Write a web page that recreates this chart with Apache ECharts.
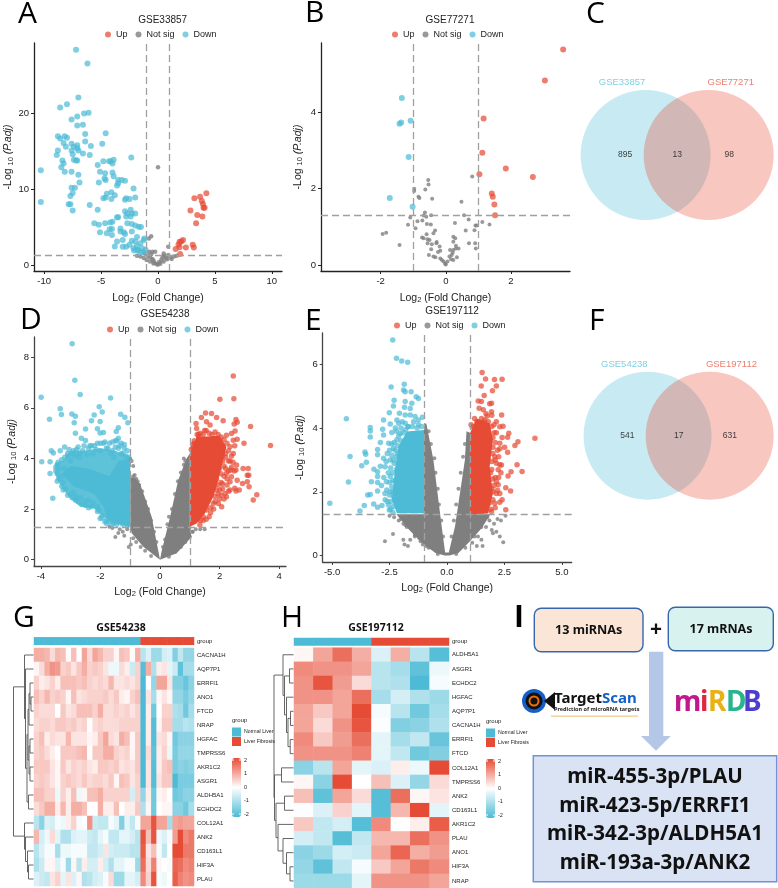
<!DOCTYPE html>
<html><head><meta charset="utf-8">
<style>html,body{margin:0;padding:0;background:#fff}#c{width:778px;height:888px}</style>
<script src="https://cdn.jsdelivr.net/npm/echarts@6/dist/echarts.min.js"></script>
</head><body><div id="c"></div>
<script>
// ---------- Volcano data [log2FC, -log10 Padj] ----------
const aUp=[[4.25,9.45],[3.7,9.0],[3.2,8.8],[3.85,8.45],[3.95,8.05],[4.0,7.55],[4.1,7.55],[2.85,7.2],[3.45,6.6],[3.9,6.4],[3.35,5.5],[2.2,3.3],[2.05,3.1],[1.9,3.05],[1.8,2.7],[3.05,2.65],[3.15,2.3],[2.45,2.3],[1.9,2.35],[1.55,2.1],[1.95,1.45]];
const aDown=[[-7.2,28.4],[-6.2,26.6],[-7.0,22.1],[-8.0,21.2],[-8.6,20.8],[-6.5,20.0],[-6.1,20.1],[-7.1,19.6],[-7.6,19.2],[-6.6,18.5],[-7.1,18.4],[-4.6,17.4],[-6.4,17.3],[-8.8,17.0],[-8.6,16.7],[-8.2,17.0],[-8.0,16.8],[-6.4,16.3],[-8.3,16.1],[-4.9,16.0],[-5.9,15.7],[-8.1,15.6],[-7.6,16.0],[-7.1,15.8],[-7.4,15.6],[-7.1,15.4],[-8.8,15.1],[-7.6,15.1],[-7.0,15.1],[-8.9,14.5],[-7.5,14.6],[-6.6,14.7],[-6.0,14.5],[-2.35,14.2],[-8.4,13.8],[-7.4,13.9],[-7.1,13.8],[-7.2,13.8],[-8.3,13.4],[-4.8,13.7],[-4.3,13.7],[-4.15,13.7],[-3.9,13.9],[-4.0,13.4],[-5.3,13.2],[-8.5,12.9],[-10.3,12.5],[-8.2,12.3],[-7.6,12.3],[-5.1,12.3],[-4.65,12.1],[-4.0,12.2],[-7.0,11.9],[-3.9,11.7],[-4.7,11.4],[-4.6,11.2],[-5.2,10.9],[-6.9,10.9],[-3.5,11.2],[-3.2,11.2],[-2.9,11.1],[-3.5,10.8],[-3.6,10.5],[-7.6,10.2],[-7.3,10.2],[-2.15,10.1],[-4.1,9.6],[-4.5,9.4],[-3.8,9.2],[-7.5,9.5],[-7.7,9.1],[-4.8,8.8],[-4.6,8.9],[-4.1,8.7],[-2.9,8.6],[-2.8,8.8],[-2.5,8.7],[-2.0,8.9],[-10.3,8.3],[-7.85,8.0],[-7.7,8.0],[-6.0,7.9],[-7.5,7.2],[-5.3,7.3],[-2.9,7.1],[-2.4,7.3],[-2.7,6.8],[-2.3,6.8],[-2.0,6.8],[-2.8,6.4],[-2.4,6.4],[-3.6,6.3],[-3.5,6.3],[-5.6,5.5],[-5.2,5.3],[-4.65,5.5],[-4.2,5.6],[-4.0,5.7],[-2.7,5.5],[-2.3,5.4],[-2.0,5.2],[-1.7,5.05],[-1.5,5.0],[-4.05,4.75],[-4.25,4.7],[-3.3,4.8],[-2.3,4.4],[-3.0,4.3],[-5.1,4.3],[-4.5,4.2],[-4.05,3.95],[-3.3,4.4],[-2.9,4.1],[-3.6,3.1],[-3.1,3.3],[-1.85,3.7],[-1.25,3.3],[-1.2,3.5],[-2.3,3.2],[-1.55,2.85],[-3.8,2.45],[-3.1,2.4],[-2.8,2.4],[-2.15,2.2],[-1.85,2.5],[-1.4,2.2],[-1.7,1.9],[-1.1,2.0],[-2.1,1.9],[-1.25,1.75],[-1.55,1.65],[-1.85,2.0],[-2.5,2.65],[-2.0,3.1]];
const aGray=[[0,12.9],[-0.6,3.8],[-0.8,3.5],[0.9,2.4],[-0.8,1.75],[-0.5,1.75],[-0.25,1.75],[-1.85,1.2],[-1.55,1.1],[-1.25,0.9],[-1,0.65],[-0.7,0.45],[-0.4,0.2],[-0.1,0.1],[0.2,0.15],[0.5,0.45],[0.8,0.75],[1.1,1],[1.4,1.1],[1.65,1.2],[-1.2,1.5],[-0.9,1.2],[-0.7,1],[-0.6,1.4],[-0.5,0.8],[-0.4,0.6],[-0.3,0.3],[0,0.05],[0.1,0.4],[0.3,0.7],[0.4,1],[0.5,1.5],[0.55,1.2],[0.7,0.9],[0.9,1.3],[1.2,0.8]];
const bUp=[[3.6,5.63],[3.04,4.82],[1.16,3.83],[1.12,2.93],[1.84,2.52],[2.67,2.3],[1.03,2.37],[1.41,1.87],[1.44,1.78],[1.49,1.58],[1.51,1.3]];
const bDown=[[-1.35,4.36],[-1.37,3.72],[-1.42,3.69],[-1.08,3.77],[-1.14,2.82],[-1.72,1.75],[-1.02,1.52]];
const bGray=[[-0.54,2.22],[-0.53,2.1],[-0.63,1.97],[-0.97,1.99],[-0.97,1.93],[-0.84,1.78],[-0.81,1.75],[-0.42,1.73],[0.81,2.31],[0.48,1.65],[0.56,1.3],[0.7,1.19],[-0.64,1.37],[-0.68,1.29],[-0.6,1.26],[-0.45,1.3],[-1.09,1.24],[-0.87,1.14],[-0.72,1.16],[-0.58,1.07],[-0.46,1.06],[-1.16,1.05],[-0.93,0.96],[-1.94,0.81],[-1.83,0.84],[-1.42,0.52],[-0.33,0.9],[-0.38,0.83],[-0.59,0.8],[-0.73,0.72],[-0.68,0.7],[-0.56,0.67],[-0.5,0.65],[-0.28,0.6],[-0.56,0.57],[-0.43,0.54],[-0.29,0.57],[-0.19,0.48],[-0.45,0.41],[-0.17,0.37],[-0.24,0.34],[-0.52,0.26],[-0.38,0.22],[-0.32,0.2],[-0.17,0.17],[-0.12,0.13],[-0.07,0.09],[-0.02,0.03],[0,0.01],[0.05,0.09],[0.11,0.22],[0.18,0.26],[0.13,0.39],[0.23,0.39],[0.31,0.43],[0.39,0.43],[0.31,0.5],[0.23,0.61],[0.29,0.7],[0.23,0.74],[0.28,1.1],[0.61,0.9],[0.88,0.91],[0.91,1.03],[0.95,1.03],[1.12,1.12],[1.34,1.06],[0.71,0.57],[0.9,0.57],[0.92,0.43],[0.23,0.13],[0.34,0.2],[0.16,0.15],[0.21,0.32]];
const dUp=[[2.46,7.26],[2.01,6.34],[2.48,6.36],[1.53,5.8],[1.73,5.78],[1.39,5.62],[1.9,5.62],[2.12,5.49],[2.55,5.54],[2.59,5.43],[2.49,5.36],[3.04,5.26],[1.21,5.38],[1.56,5.45],[1.68,5.32],[1.23,5.18],[2.52,5.09],[2.4,4.99],[2.23,4.92],[3.71,4.51],[2.82,4.6],[2.59,4.76],[2.46,4.72],[2.35,4.46],[2.51,4.5],[2.46,4.2],[2.57,3.74],[2.79,3.6],[2.96,3.6],[2.55,3.54],[2.49,3.5],[2.98,3.34],[2.93,3.34],[2.37,3.54],[2.4,3.28],[2.23,3.41],[2.35,3.08],[2.59,3.14],[2.77,3.01],[2.93,3.08],[2.99,2.88],[2.51,2.82],[2.66,2.75],[2.55,2.71],[3.25,2.57],[3.13,2.36],[2.35,2.75],[2.23,2.49],[2.07,2.09],[1.96,2.22],[1.79,2.22],[1.56,1.96],[1.34,1.37],[2.18,2.62],[2.01,2.75],[2.2,4.2],[2.3,3.9],[2.15,3.7],[2.25,3.2],[2.1,3],[2.05,3.4],[2.1,4.5],[1.85,5.05],[1.5,5.1],[1.3,4.95],[1.1,4.55],[1.15,4.6],[1.95,2.6],[1.85,2.5],[1.7,2.05],[1.45,1.7]];
const dUpEdge=[[1.05,4.35],[1.1,4.4],[1.15,4.7],[1.2,4.55],[1.25,4.95],[1.3,4.85],[1.35,5.0],[1.45,4.95],[1.55,5.1],[1.65,5.0],[1.75,4.95],[1.95,4.95],[2.05,4.85],[2.15,4.75],[2.1,4.35],[2.2,4.05],[2.25,4.6],[2.3,4.3],[2.1,3.9],[2.2,3.6],[2.35,3.9],[2.15,3.3],[2.05,3.05],[2.1,2.8],[2.0,2.4],[1.95,2.95],[2.05,2.55],[1.85,2.3],[1.8,2.0],[1.7,1.85],[1.65,1.7],[1.55,1.6],[1.45,1.55],[1.35,1.55],[1.25,1.6],[1.9,3.2],[2.0,3.6],[2.1,4.1],[2.3,3.5],[2.45,3.85],[2.4,3.65],[2.25,2.95],[2.3,2.7],[2.15,2.4],[1.9,2.75],[2.4,4.1]];
const dDown=[[-2.95,8.53],[-2.86,7.09],[-2.68,6.53],[-3.99,6.42],[-1.66,6.39],[-2.04,6.04],[-3.35,5.96],[-1.94,5.84],[-3.31,5.74],[-2.96,5.76],[-2.84,5.67],[-2.21,5.72],[-1.32,5.75],[-1.18,5.63],[-3.71,5.55],[-2.3,5.49],[-2.01,5.46],[-2.88,5.41],[-1.08,5.41],[-2.5,5.16],[-2.1,5.17],[-1.4,5.21],[-1.47,5.07],[-2.84,5.0],[-2.01,5.01],[-1.9,5.03],[-2.64,4.8],[-2.5,4.71],[-1.4,4.8],[-3.97,3.87],[-3.69,3.87],[-3.69,3.41],[-3.6,2.43],[-2.84,2.36],[-3.65,4.3],[-3.58,4.22],[-2.01,1.63],[-1.79,1.43],[-3.5,3.5],[-3.4,3.2],[-3.3,2.9],[-3.2,3.6],[-3.1,4.1],[-3.0,2.6],[-3.0,3.9],[-2.9,4.3],[-2.8,2.5],[-2.7,4.2],[-2.6,2.2],[-2.5,2.3],[-2.4,4.4],[-2.3,2.1],[-2.2,4.5],[-2.1,1.9],[-2,4.6],[-1.9,4.6],[-1.85,1.5],[-1.7,4.6],[-1.6,1.4],[-1.5,4.7],[-1.4,4.4],[-1.3,4.6],[-1.2,4.4],[-1.1,4.3],[-1.05,4.05],[-3.45,3.75],[-3.35,4.3],[-3.2,4.45],[-2.75,4.45],[-2.35,4.5],[-1.8,4.4],[-1.65,4.2],[-1.25,4.2],[-3.45,3.1],[-3.25,2.75],[-2.95,2.45],[-2.4,2.05],[-1.95,1.75],[-1.7,1.6]];
const dDownEdge=[[-3.5,3.65],[-3.45,3.4],[-3.42,3.85],[-3.38,3.6],[-3.3,3.95],[-3.3,3.3],[-3.25,3.05],[-3.2,4.05],[-3.18,2.8],[-3.1,4.2],[-3.1,2.55],[-3.05,4.35],[-2.95,4.2],[-2.9,2.65],[-2.85,4.1],[-2.8,4.35],[-2.75,2.3],[-2.7,4.05],[-2.65,2.45],[-2.6,4.3],[-2.55,4.5],[-2.5,2.15],[-2.45,4.15],[-2.4,2.35],[-2.3,4.5],[-2.25,4.2],[-2.25,2.25],[-2.15,4.35],[-2.1,4.6],[-2.1,2.1],[-2.05,1.95],[-2,4.3],[-1.95,1.65],[-1.85,4.65],[-1.8,1.55],[-1.75,4.4],[-1.7,1.5],[-1.6,4.65],[-1.6,4.3],[-1.55,1.45],[-1.5,4.45],[-1.45,4.7],[-1.45,1.4],[-1.35,4.5],[-1.3,4.2],[-1.25,1.4],[-1.2,4.55],[-1.15,4.1],[-1.1,1.35],[-1.55,4.05]];
const dGray=[[-1.5,0.9],[-1.4,1.05],[-1.25,1.1],[-1.2,0.95],[1.2,1.2],[1.5,1.2],[-1.05,0.5],[-0.98,0.6],[-1,4.0],[-0.95,3.9],[-0.9,3.7],[0.8,4],[0.85,3.9],[0.9,3.8],[-1.7,1.3],[-1.6,1.25],[-1.35,1.2],[1.1,1.1],[1.35,1.2],[-0.85,3.35],[-0.75,3.1]];
const dGrayEdge=[[-1.1,1.2],[-0.9,0.85],[-0.8,0.7],[-0.65,0.5],[-0.5,0.35],[-0.3,0.15],[0.3,0.12],[0.5,0.3],[0.7,0.5],[0.85,0.7],[1,0.9],[1.08,1.1],[-0.7,2.95],[-0.6,2.7],[-0.5,2.3],[-0.4,2],[-0.3,1.55],[-0.2,1.1],[-0.12,0.7],[0.25,1.4],[0.3,1.7],[0.4,2.0],[0.5,2.6],[0.6,3.1],[0.7,3.45],[0.8,3.75],[0.17,0.8],[0.1,0.5],[-0.8,3.2],[-0.9,3.3]];
const eUp=[[1.53,5.74],[1.68,5.54],[2.07,5.52],[2.4,5.53],[2.15,5.32],[1.49,5.32],[1.98,5.17],[1.62,5.02],[1.36,4.85],[1.5,4.83],[1.94,4.78],[1.86,4.76],[1.4,4.62],[1.58,4.57],[1.94,4.51],[2.38,4.41],[1.75,4.38],[2.15,4.2],[2.44,4.06],[2.69,3.84],[2.64,3.71],[3.83,3.68],[3.09,3.57],[2.96,3.45],[2.3,3.52],[2.51,3.4],[2.64,3.24],[3.05,2.85],[3.27,2.64],[2.79,2.63],[2.66,2.5],[2.56,2.13],[2.77,2.03],[2.56,1.44],[2.15,2.9],[2.37,2.84],[2.23,2.69],[2.15,2.32],[2.23,2.22],[2.3,1.95],[2.08,1.64],[2.3,1.67],[1.94,1.38],[2.08,3.1],[2.3,4.04],[2.05,3.85],[2.0,3.4],[2.1,2.45],[1.95,2.1],[1.05,4.1],[1.2,4.3],[1.6,4.2],[1.95,2.7]];
const eUpEdge=[[1.1,4.05],[1.3,4.2],[1.5,4.3],[1.65,4.25],[1.8,4.2],[1.95,4.05],[2.05,4.1],[2.0,3.7],[2.1,3.55],[2.15,3.85],[2.2,3.3],[2.0,3.2],[2.1,3.0],[1.95,2.95],[1.9,2.6],[2.0,2.4],[2.05,2.2],[2.0,2.0],[2.15,1.95],[2.0,1.75],[1.85,1.65],[2.1,1.5],[1.9,1.45],[1.7,1.4],[1.5,1.35],[2.25,3.1],[2.3,2.85],[2.25,2.45],[2.35,2.6],[2.3,3.35],[2.4,3.7],[2.2,2.05],[2.4,1.75],[1.95,4.4],[1.7,4.45]];
const eDown=[[-2.36,6.76],[-2.2,6.19],[-1.97,6.1],[-1.71,6.06],[-1.86,5.37],[-2.43,5.29],[-1.89,5.19],[-1.82,5.14],[-1.56,5.14],[-1.34,4.98],[-1.24,4.93],[-2.3,4.87],[-1.82,4.83],[-2.33,4.69],[-1.53,4.78],[-1.85,4.65],[-1.6,4.61],[-2.51,4.48],[-4.38,4.29],[-2.76,4.25],[-2.18,4.25],[-2.07,4.46],[-1.07,4.34],[-3.34,4.02],[-3.34,3.91],[-3.34,3.72],[-2.8,3.96],[-2.47,4.13],[-2.4,3.86],[-2.76,3.78],[-2.9,3.55],[-2.54,3.52],[-3.02,3.33],[-3.57,3.25],[-3.54,3.18],[-4.22,3.11],[-3.71,2.82],[-3.51,2.93],[-3.02,3.16],[-3.18,2.71],[-3.02,2.63],[-4.29,2.31],[-5.1,1.64],[-3.79,1.4],[-3.6,1.57],[-3.45,1.9],[-3.34,1.92],[-3.29,2.32],[-3.02,2.48],[-3.02,2.29],[-3.02,2.03],[-3.19,1.62],[-3.02,1.52],[-2.83,1.57],[-2.69,1.75],[-2.51,1.43],[-2.62,2.06],[-2.47,2],[-2.64,2.32],[-2.47,2.48],[-2.69,2.79],[-2.47,3],[-2.76,3.05],[-2.54,1.59],[-2.33,1.54],[-2.33,3.0],[-2.18,3.63],[-2.04,3.83],[-1.82,4.15],[-1.68,4.04],[-1.39,4.36],[-1.24,4.1],[-1.6,4.41],[-1.82,4.41],[-2.33,3.36],[-2.4,2.16],[-2.33,1.85],[-2.2,2.7],[-2.15,3.2],[-2.25,2.35]];
const eDownEdge=[[-1.8,3.95],[-1.9,3.85],[-1.7,4.05],[-1.5,4.05],[-1.3,4.0],[-1.1,4.05],[-1.45,4.2],[-1.25,4.25],[-2.0,3.6],[-2.1,3.75],[-2.15,3.45],[-2.25,3.3],[-2.3,3.55],[-2.2,3.1],[-2.3,2.9],[-2.35,2.6],[-2.4,3.15],[-2.45,2.75],[-2.5,2.3],[-2.35,2.35],[-2.5,1.9],[-2.45,1.7],[-2.35,2.0],[-2.45,1.45],[-2.35,1.35],[-2.6,1.7],[-2.55,2.6],[-2.6,3.2],[-2.65,2.95],[-2.7,1.95],[-2.75,2.45],[-2.85,2.2],[-2.9,2.8],[-2.4,3.5],[-2.5,3.3],[-2.2,3.9],[-2.0,4.0],[-2.1,4.15],[-2.25,4.0],[-1.95,4.2]];
const eGray=[[-2.7,0.45],[-2.35,0.68],[-1.9,0.5],[-1.6,0.5],[-1.85,0.35],[-1.7,0.3],[-1.4,0.65],[-1.2,0.55],[-1.05,0.35],[-0.9,0.3],[1.1,0.4],[1.3,0.3],[1.35,0.6],[1.5,0.5],[1.55,0.3],[1.7,0.9],[1.95,0.8],[2,0.7],[2.15,0.75],[2.3,0.6],[2.45,0.42],[2.2,1.15],[2.35,1.1],[2.55,1.25],[1.85,1.1],[2.05,1],[-2.5,1.25],[-2.3,1.2],[-2.1,1.1],[-1.9,1],[-1.75,0.9],[-1.5,0.8],[-1.3,0.85]];
const eGrayEdge=[[-0.55,3.05],[-0.5,2.6],[-0.4,2.1],[-0.35,1.6],[-0.25,1.1],[-0.17,0.6],[0.2,0.6],[0.3,1.1],[0.4,1.6],[0.5,2.1],[0.6,2.6],[0.7,3.1],[0.78,3.5],[-0.7,3.5],[-0.8,3.9],[-2.0,1.15],[-1.8,0.95],[-1.4,0.6],[-1.15,0.45],[-0.8,0.25],[-0.4,0.05],[0.4,0.05],[0.8,0.25],[1.2,0.6],[1.5,0.9],[1.75,1.2]];
// Dense masses too packed to resolve into single dots: their outlines
const dGrayLeft=[[0,0],[-0.56,0.51],[-0.95,1.04],[-1,1.3],[-1,3.25],[-0.85,3.25],[-0.67,3.0],[-0.28,1.7],[-0.05,0.3]];
const dGrayRight=[[0,0],[0.56,0.25],[1.06,0.9],[1,1.3],[1,4.2],[0.89,4.0],[0.61,3.14],[0.34,1.7],[0.05,0.3]];
const dDownMass=[[-3.52,3.8],[-3.24,3.93],[-3.02,4.3],[-2.57,4.3],[-2.01,4.4],[-1.5,4.3],[-1,4.07],[-1,1.3],[-1.56,1.43],[-1.9,1.7],[-2.23,2.03],[-2.68,2.09],[-3.07,2.49],[-3.41,3.08],[-3.52,3.41]];
const dDownDense=[[-1,4],[-1.4,3.9],[-1.7,3.3],[-2.4,3.6],[-3.0,3.7],[-3.3,3.4],[-2.9,2.9],[-2.2,2.6],[-1.9,2.1],[-1.8,1.7],[-1.5,1.45],[-1,1.3]];
const dUpMass=[[1,4.2],[1.23,4.85],[2,4.9],[2.23,4.46],[1.9,2.88],[1.79,2.49],[1.51,1.83],[1.23,1.43],[1,1.3]];
const eGrayV=[[-2.2,1.3],[-1.7,0.85],[-1.1,0.4],[-0.5,0.08],[-0.1,0],[0.1,0],[0.5,0.08],[1.0,0.45],[1.5,0.85],[1.9,1.3],[1,1.3],[1,3.85],[0.85,3.9],[0.78,3],[0.35,0.91],[0.08,0.1],[-0.08,0.1],[-0.23,0.91],[-0.59,3],[-0.9,4.15],[-1,4.1],[-1,1.3]];
const eDownMass=[[-1,3.94],[-1.75,3.89],[-2.11,3.42],[-2.25,2.79],[-2.4,1.75],[-2.18,1.33],[-1,1.33]];
const eUpMass=[[1,3.84],[1,1.28],[1.79,1.33],[2.0,1.95],[1.86,2.79],[2.0,3.63],[1.86,4.15],[1.29,4.3]];
// ---------- Tick labels ----------
const aXTicks=[-10,-5,0,5,10], aYTicks=[0,10,20];
const bXTicks=[-2,0,2], bYTicks=[0,2,4];
const dXTicks=[-4,-2,0,2,4], dYTicks=[0,2,4,6,8];
const eXTicks=[-5,-2.5,0,2.5,5], eYTicks=[0,2,4,6];
const fcCut=[-1,1], padjCut=1.3;
// ---------- Venn ----------
const vennC={names:['GSE33857','GSE77271'],counts:[895,13,98]};
const vennF={names:['GSE54238','GSE197112'],counts:[541,17,631]};
// ---------- Heatmap G ----------
const gGenes=['CACNA1H','AQP7P1','ERRFI1','ANO1','FTCD','NRAP','HGFAC','TMPRSS6','AKR1C2','ASGR1','ALDH5A1','ECHDC2','COL12A1','ANK2','CD163L1','HIF3A','PLAU'];
const gGroup=[-2,-2,-2,-2,-2,-2,-2,-2,-2,-2,-2,-2,-2,-2,-2,-2,-2,-2,-2,-2,2,2,2,2,2,2,2,2,2,2];
const gMatrix=[
[.9,.9,.8,.4,.8,.7,.05,.7,0,1,.4,1,.8,.5,.5,.1,.7,.6,.05,.9,-.8,-.4,-1.1,-1.1,-.5,-.4,-1.4,-.7,-1.2,-1.2],
[.1,.4,.9,1.2,1.1,.5,.6,.3,.6,.9,.5,.6,.5,.3,-.2,-.2,.4,.2,-.6,.5,-1.9,.9,-.9,.2,.3,-.3,-.6,-1.8,-1,-1],
[.5,.2,.3,.5,.2,.7,.7,.7,.6,.7,.5,.4,.5,.4,.8,.3,.3,.4,.3,.5,-2,0,-1.2,1,1,.3,-1.4,-1.4,-1.7,-1.3],
[.7,.5,.8,.5,.6,.5,.1,.7,.3,.4,.5,.5,.5,.6,.4,.6,.2,.1,.5,.7,-2,.3,-1,.1,.3,.1,-1.2,-1.2,-1.5,-1.2],
[.5,.4,.4,.4,0,.6,.3,.4,.7,.7,.7,.5,.9,.4,.4,.5,.4,.5,.3,.5,-2,.2,-1.6,0,.5,.5,-.9,-1,-1.6,-1],
[.4,.5,.5,.4,.6,.6,.5,.6,.4,.5,0,.4,.5,.4,.4,.4,.5,.5,.5,.5,-2,.2,-1.9,.1,.6,.6,-1,-1,-.8,-.9],
[.5,.7,.2,.4,.3,.3,.8,.3,.3,.3,.1,.2,.6,1,.4,.3,.9,.7,.1,.6,-2,.2,-1.9,.3,.4,.1,-1.6,-1.3,-1.3,-1.3],
[.5,.6,.4,.2,0,.6,.6,.6,.7,.8,0,.6,.6,.9,.9,.5,.4,.5,.1,.6,-2,.4,-1.8,.2,.5,-.2,-1.5,-1.2,-1.2,-1.2],
[.6,.6,.6,.3,.1,.6,.3,.5,.4,.5,.3,.2,.6,.6,.5,.6,.3,.4,.3,.6,-2,.3,-1.9,.2,.6,.7,-1.5,-1.3,-1.4,-1.3],
[.5,.6,.5,.3,.1,.5,.6,.5,.4,.6,.4,.5,.5,.4,.6,.1,.7,.6,.3,.5,-2,.3,-1.9,.3,.6,.6,-2,-1.5,-1.5,-1.5],
[.7,.7,.5,.5,-.2,.5,.2,.7,-.2,.1,.7,.7,.9,.5,.5,.5,.5,.5,-.5,.5,-1.2,.2,-1.6,.1,.2,0,-1.6,-1.5,-1.3,-1.3],
[.4,.6,.9,.9,.2,.8,.2,.9,.9,.7,0,0,.9,.2,.2,.7,0,.2,.2,.6,-.9,.1,-1.6,0,.1,.1,-1.3,-1.3,-1.6,-1],
[-.8,-1.3,-.4,-.5,-.1,-.2,.2,.5,-.1,0,1.2,-.6,-.7,-.7,-.1,-.3,-1.4,-.3,-.7,-.1,1,1,1.9,1,1,-1,1,1.1,1,1],
[.8,-.5,-.2,.4,-.3,-.9,-.9,-.4,-.3,-.3,-.6,-.7,-.3,-.1,-.7,-.7,-.3,-.3,-.5,-.8,1.9,.7,1.9,-.2,-.4,-.1,1.1,2,1.3,1.5],
[-.8,-.4,-.1,-.1,-1,-.2,-.2,-.1,-.1,-.1,-.7,-.7,-.5,.3,-.5,-.6,-.6,-.6,-.8,-.8,1.8,.3,.7,-.1,-.7,0,2,2,1.5,1.5],
[-.9,-.6,.1,.1,-.4,-.1,-1.1,.1,-.8,.2,-.5,-.5,.2,-.5,-.9,-.3,-.3,-.1,-.1,-1.1,1.6,.4,1.4,.1,0,-.1,1.7,1.6,1.3,1.4],
[-.4,-.6,-.7,.3,.5,-.3,.3,-.4,.1,-.9,-.8,-.5,-.4,-.1,.4,-1.1,-1.1,-.3,-.3,-.5,1.3,.5,1.9,-.1,-.2,0,1.8,1.4,1.2,1.3]];
const gTree=[20,[9,0,[8,1,[6.5,[5.5,[4.5,[3.5,2,[2.5,3,4]],5],[4.5,[3.5,6,7],[3.5,8,9]]],[5,10,11]]]],[9,12,[8,13,[6,14,[5,15,16]]]]];
// ---------- Heatmap H ----------
const hGenes=['ALDH5A1','ASGR1','ECHDC2','HGFAC','AQP7P1','CACNA1H','ERRFI1','FTCD','COL12A1','TMPRSS6','ANK2','CD163L1','AKR1C2','PLAU','ANO1','HIF3A','NRAP'];
const hGroup=[-2,-2,-2,-2,2,2,2,2];
const hMatrix=[
[.1,1,1.6,.9,-.4,.9,-.8,-1.9],[1.3,1.2,1.2,1,-.8,-1,-1.8,-.2],[1.2,1.9,1.1,.4,-.8,-.9,-2,-.1],[1.2,1.2,1,1.6,-1,-.5,-.9,-1.1],
[1,.6,1,2,-.1,-.8,-1.6,-1],[1,.4,1.2,1.9,-.05,-1.4,-1.3,-.9],[1.3,.6,1.1,1.6,-.3,-1,-.7,-1.7],[1.2,1.2,1.2,1.4,-.3,-.7,-1.6,-1.4],
[-1.3,-.8,1,-.3,-.4,.2,-.2,2],[.1,-1.3,2,0,.7,-.4,-1.2,.4],[.7,-1.8,1,.4,-1.9,1.6,.1,.3],[-.05,-.4,.5,-.3,-1.9,.8,2,-.3],
[.6,-.7,-.5,-1.9,1.3,0,.2,1.8],[-.5,-.7,-1.9,-.7,.8,.8,1.6,1.2],[-1.3,-1.1,-.5,-.6,1,1.7,.9,1.1],[-1.2,-1.8,-.7,-.1,.6,1,1.5,1.3],[-1.1,-1.1,-1.1,-.3,1.2,1.2,1.2,1]];
const hTree=[19.5,[10.5,0,[9,[4,1,2],[7,3,[5.5,[3,4,5],[3.3,6,7]]]]],[19,[12,8,9],[17.5,[9,10,11],[15.5,12,[10.5,13,[7,14,[3.5,15,16]]]]]]];
const legendTicks=[2,1,0,-1,-2];
const groupNames=['Normal Liver','Liver Fibrosis'];
const resultPairs=['miR-455-3p/PLAU','miR-423-5p/ERRFI1','miR-342-3p/ALDH5A1','miR-193a-3p/ANK2'];

// ---------- Colours ----------
const UP='#E64B35',DOWN='#4DBBD5',GRAY='#7F7F7F';
const FONT='"Liberation Sans",Arial,sans-serif',BOLD='"Noto Sans",sans-serif';
const grids=[],xAxes=[],yAxes=[],series=[],titles=[],legends=[],gfx=[];
function addAxes(g,x,y){grids.push(g);const i=grids.length-1;xAxes.push(Object.assign({gridIndex:i},x));yAxes.push(Object.assign({gridIndex:i},y));return i;}
const hidden={show:false};
function poly(i,pts,color,op,z,name){series.push({type:'custom',name:name,xAxisIndex:i,yAxisIndex:i,z:z,silent:true,clip:true,data:pts,
  renderItem:function(p,api){if(p.dataIndex!==0)return null;return{type:'polygon',shape:{points:pts.map(q=>api.coord(q))},style:{fill:color,opacity:op}};}});}
function volcano(c){
 const axisCol=c.axisCol||'#222';
 const rich={t:{fontSize:10.5,fontFamily:FONT,color:'#222'},s:{fontSize:7.5,fontFamily:FONT,color:'#222',verticalAlign:'bottom',padding:[4,0,0,0]},i:{fontSize:10.5,fontFamily:FONT,fontStyle:'italic',color:'#222'}};
 const i=addAxes({left:c.l,top:c.t,width:c.r-c.l,height:c.b-c.t},
 {type:'value',min:c.x0,max:c.x1,splitLine:hidden,name:'{t|Log}{s|2}{t| (Fold Change)}',nameLocation:'middle',nameGap:c.xGap||21,nameTextStyle:{rich:rich},
  axisLine:{onZero:false,lineStyle:{color:axisCol,width:1.3}},axisTick:{length:3,customValues:c.xt,lineStyle:{color:axisCol}},
  axisLabel:{customValues:c.xt,fontSize:9.5,margin:5,color:'#222',fontFamily:FONT,formatter:c.fmt||(v=>String(v))}},
 {type:'value',min:c.y0,max:c.y1,splitLine:hidden,name:'{t|-Log }{s|10}{i| (P.adj)}',nameLocation:'middle',nameGap:c.yGap||17,nameRotate:90,nameTextStyle:{rich:rich},
  axisLine:{onZero:false,lineStyle:{color:axisCol,width:1.3}},axisTick:{length:3,customValues:c.yt,lineStyle:{color:axisCol}},
  axisLabel:{customValues:c.yt,fontSize:9.5,margin:5,color:'#222',fontFamily:FONT}});
 (c.polys||[]).forEach(p=>poly(i,p[0],p[1],p[2],p[3],p[4]));
 const sm=(n,d,col,size,op,z)=>series.push({type:'scatter',name:n,xAxisIndex:i,yAxisIndex:i,data:d,symbolSize:size,itemStyle:{color:col,opacity:op},z:z,silent:true,large:false});
 sm('Up',c.up,UP,c.size,.72,4);sm('Not sig',c.gray,GRAY,c.graySize,.8,3);sm('Down',c.down,DOWN,c.size,.72,4);
 series.push({type:'scatter',name:'cut',xAxisIndex:i,yAxisIndex:i,data:[],z:10,silent:true,
  markLine:{silent:true,symbol:'none',label:{show:false},animation:false,lineStyle:{type:[7,4],color:'#A0A0A0',width:1.3},
   data:[{xAxis:fcCut[0]},{xAxis:fcCut[1]},{yAxis:padjCut}]}});
 titles.push({text:c.title,left:c.tx,top:c.ty-10,textAlign:'center',textStyle:{fontSize:10,fontWeight:'normal',color:'#222',fontFamily:FONT}});
 legends.push({left:c.lx,top:c.ly-4,data:['Up','Not sig','Down'],icon:'circle',itemWidth:6,itemHeight:6,itemGap:8,selectedMode:false,padding:0,textStyle:{fontSize:9,color:'#222',fontFamily:FONT}});
}
volcano({l:34,r:282,t:43,b:271,x0:-10.9,x1:10.9,y0:-.8,y1:29.3,xt:aXTicks,yt:aYTicks,up:aUp,gray:aGray,down:aDown,size:6,graySize:4.5,title:'GSE33857',tx:157.7,ty:20,lx:105,ly:34});
volcano({l:321,r:570,t:43,b:271,x0:-3.83,x1:3.81,y0:-.157,y1:5.8,xt:bXTicks,yt:bYTicks,up:bUp,gray:bGray,down:bDown,size:6,graySize:4,title:'GSE77271',tx:445,ty:20,lx:392,ly:34});
volcano({l:34,r:286,t:337,b:566,x0:-4.23,x1:4.23,y0:-.25,y1:8.8,xt:dXTicks,yt:dYTicks,up:dUp.concat(dUpEdge),gray:dGray.concat(dGrayEdge),down:dDown.concat(dDownEdge),size:5.5,graySize:4,title:'GSE54238',tx:160,ty:314,lx:107,ly:329,axisCol:'#444',yGap:16,xGap:20,
 polys:[[dGrayLeft,GRAY,1,2,'mass1'],[dGrayRight,GRAY,1,2,'mass2'],[dDownMass,DOWN,.9,3,'mass3'],[dDownDense,DOWN,1,3,'mass4'],[dUpMass,UP,1,3,'mass5']]});
volcano({l:322.7,r:571.7,t:333,b:562,x0:-5.41,x1:5.43,y0:-.2,y1:6.98,xt:eXTicks,yt:eYTicks,up:eUp.concat(eUpEdge),gray:eGray.concat(eGrayEdge),down:eDown.concat(eDownEdge),size:5.5,graySize:4,title:'GSE197112',tx:447,ty:311,lx:394,ly:325,axisCol:'#444',xGap:20,fmt:v=>v.toFixed(1),
 polys:[[eGrayV,GRAY,1,2,'mass1'],[eDownMass,DOWN,1,3,'mass3'],[eUpMass,UP,1,3,'mass5']]});

// ---------- Venn ----------
function venn(v,cx,cy,unit,size,nameY){
 const hw=3.2;
 const i=addAxes({left:cx-hw*unit,top:cy-hw*unit,width:2*hw*unit,height:2*hw*unit},
  {type:'value',min:-hw,max:hw,show:false},{type:'value',min:-hw,max:hw,show:false});
 const base={type:'scatter',xAxisIndex:i,yAxisIndex:i,silent:true};
 series.push(Object.assign({},base,{name:v.names[0],data:[[-1,0]],symbolSize:size,itemStyle:{color:DOWN,opacity:.31}}));
 series.push(Object.assign({},base,{name:v.names[1],data:[[1,0]],symbolSize:size,itemStyle:{color:UP,opacity:.31}}));
 series.push(Object.assign({},base,{name:'counts',symbolSize:0,z:5,data:[[-1.65,0,v.counts[0]],[0,0,v.counts[1]],[1.65,0,v.counts[2]]],
   label:{show:true,position:'inside',formatter:p=>p.data[2],fontSize:8.5,color:'#111',fontFamily:FONT}}));
 series.push(Object.assign({},base,{name:'set names',symbolSize:0,z:5,data:[[-1.75,nameY,v.names[0],'#5FC3D9'],[1.7,nameY,v.names[1],'#E3604C']].map(d=>({value:d.slice(0,3),
   label:{show:true,position:'inside',formatter:d[2],fontSize:9.5,color:d[3],fontFamily:FONT}}))}));
}
venn(vennC,678.7,155,32,130,2.27);
venn(vennF,680.7,435.7,31.7,128,2.26);

// ---------- Heatmaps ----------
const heatSeriesG=[],heatSeriesH=[];
function tree(node,segs){ // returns [height,y]
 if(typeof node==='number')return[0,node];
 const a=tree(node[1],segs),b=tree(node[2],segs);
 segs.push([a[0],a[1],node[0],b[1],b[0]]);
 return[node[0],(a[1]+b[1])/2];
}
function heat(m,genes,grp,t,lst,lab){
 const cols=grp.length,rows=genes.length;
 const cats=Array.from({length:cols},(_,i)=>i);
 const i=addAxes({left:t.l,top:t.t,width:t.w,height:t.h},{type:'category',data:cats,show:false},
  {type:'category',data:genes,inverse:true,position:'right',axisLine:hidden,axisTick:hidden,axisLabel:{interval:0,fontSize:6,margin:3,color:'#222',fontFamily:FONT}});
 const d=[];m.forEach((r,y)=>r.forEach((v,x)=>d.push([x,y,v])));
 lst.push(series.length);
 series.push({type:'heatmap',name:t.title,xAxisIndex:i,yAxisIndex:i,data:d,silent:true,progressive:0});
 const j=addAxes({left:t.l,top:t.gt,width:t.w,height:7.5},{type:'category',data:cats,show:false},
  {type:'category',data:['group'],position:'right',axisLine:hidden,axisTick:hidden,axisLabel:{fontSize:6,margin:3,color:'#222',fontFamily:FONT}});
 lst.push(series.length);
 series.push({type:'heatmap',name:'group',xAxisIndex:j,yAxisIndex:j,data:grp.map((v,x)=>[x,0,v]),silent:true,progressive:0});
 const k=addAxes({left:t.dl,top:t.t,width:t.l-t.dl-.5,height:t.h},{type:'value',min:0,max:t.dmax,inverse:true,show:false},{type:'value',min:-.5,max:rows-.5,inverse:true,show:false});
 const segs=[];tree(t.tree,segs);
 series.push({type:'custom',name:'dendrogram',xAxisIndex:k,yAxisIndex:k,silent:true,data:segs,renderItem:function(p,api){
   const s=segs[p.dataIndex];
   return{type:'polyline',shape:{points:[api.coord([s[0],s[1]]),api.coord([s[2],s[1]]),api.coord([s[2],s[3]]),api.coord([s[4],s[3]])]},style:{stroke:'#555',fill:null,lineWidth:.9}};}});
 titles.push({text:t.title,left:t.cx,top:618,textAlign:'center',textStyle:{fontSize:10.5,fontWeight:'bold',color:'#111',fontFamily:BOLD}});
 // group key
 gfx.push(txt('group',lab.x,lab.y,'left',FONT,6,'#222'));
 gfx.push({type:'rect',shape:{x:lab.x,y:lab.y+7.5,width:9,height:9},style:{fill:DOWN}});
 gfx.push({type:'rect',shape:{x:lab.x,y:lab.y+17,width:9,height:9},style:{fill:UP}});
 gfx.push(txt(groupNames[0],lab.x+12,lab.y+12,'left',FONT,5.2,'#222'));
 gfx.push(txt(groupNames[1],lab.x+12,lab.y+21.5,'left',FONT,5.2,'#222'));
 legendTicks.forEach((v,n)=>{gfx.push(txt(String(v),lab.x+12,lab.ty+n*13.5,'left',FONT,5.5,'#222'));});
 gfx.push({type:'rect',z:20,shape:{x:lab.x,y:lab.ty-.5,width:2,height:1},style:{fill:'#fff'}},{type:'rect',z:20,shape:{x:lab.x+7,y:lab.ty-.5,width:2,height:1},style:{fill:'#fff'}});
 gfx.push({type:'rect',z:20,shape:{x:lab.x,y:lab.ty+53.5,width:2,height:1},style:{fill:'#fff'}},{type:'rect',z:20,shape:{x:lab.x+7,y:lab.ty+53.5,width:2,height:1},style:{fill:'#fff'}});
}
function txt(s,x,y,al,fam,size,col,w){return{type:'text',z:20,style:{text:s,x:x,y:y,align:al,textAlign:al,verticalAlign:'middle',textVerticalAlign:'middle',fill:col,font:(w||'normal')+' '+size+'px '+fam}};}
heat(gMatrix,gGenes,gGroup,{l:34,t:648,w:160,h:238,gt:637.3,dl:13.5,dmax:20,tree:gTree,title:'GSE54238',cx:116},heatSeriesG,{x:232,y:720,ty:760});
heat(hMatrix,hGenes,hGroup,{l:294,t:647.7,w:155,h:240.3,gt:638,dl:274,dmax:19.5,tree:hTree,title:'GSE197112',cx:371},heatSeriesH,{x:486,y:721,ty:761});
const vmBase={type:'continuous',min:-2,max:2,calculable:false,realtime:false,itemWidth:9,itemHeight:59,orient:'vertical',padding:0,text:null,hoverLink:false,inRange:{color:[DOWN,'#FFFFFF',UP]}};
const vms=[Object.assign({},vmBase,{seriesIndex:heatSeriesG,left:232,top:758}),Object.assign({},vmBase,{seriesIndex:heatSeriesH,left:486,top:759})];

// ---------- Panel letters ----------
[['A',18,14],['B',305,13],['C',586,14],['D',20,320],['E',305,321],['F',589,321],['G',13,618],['H',281,618]].forEach(a=>gfx.push(txt(a[0],a[1],a[2],'left','"Open Sans",sans-serif',30,'#000')));
gfx.push(txt('I',514,618,'left','"Open Sans",sans-serif',30,'#000','bold'));

// ---------- Panel I ----------
const blueEdge='#3566AE';
gfx.push({type:'rect',shape:{x:534.3,y:608.3,width:108.7,height:43.4,r:7},style:{fill:'#FBE5D6',stroke:blueEdge,lineWidth:1.4}});
gfx.push({type:'rect',shape:{x:668.3,y:607.3,width:105,height:43.4,r:7},style:{fill:'#D8F3EF',stroke:blueEdge,lineWidth:1.4}});
gfx.push(txt('13 miRNAs',588.7,630.5,'center',BOLD,12.6,'#111','bold'));
gfx.push(txt('17 mRNAs',721,629.5,'center',BOLD,12.5,'#111','bold'));
gfx.push(txt('+',656,630.5,'center',BOLD,21,'#111','bold'));
gfx.push({type:'polygon',shape:{points:[[649,651.7],[663.3,651.7],[663.3,736],[670.7,736],[656,750.7],[641,736],[649,736]]},style:{fill:'#B4C7E7'}});
// TargetScan wordmark
gfx.push({type:'circle',shape:{cx:534,cy:701,r:12},style:{fill:'#1560C8'}});
gfx.push({type:'circle',shape:{cx:534,cy:701,r:8.5},style:{fill:'#111'}});
gfx.push({type:'circle',shape:{cx:534,cy:701,r:5.5},style:{fill:'#E8710A'}});
gfx.push({type:'circle',shape:{cx:534,cy:701,r:3.5},style:{fill:'#111'}});
gfx.push({type:'polygon',shape:{points:[[544,701],[555,692],[555,710]]},style:{fill:'#111'}});
gfx.push({type:'text',z:20,style:{x:554,y:699,verticalAlign:'middle',textVerticalAlign:'middle',text:'{a|Target}{b|Scan}',rich:{a:{fill:'#111',font:'bold 15px '+BOLD},b:{fill:'#1560C8',font:'bold 15px '+BOLD}}}});
gfx.push(txt('Prediction of microRNA targets',554,709,'left',BOLD,5.5,'#222','bold'));
gfx.push({type:'rect',shape:{x:551,y:715.5,width:87,height:1.2},style:{fill:'#F2C98A'}});
// miRDB wordmark
[['m',674,'#C2188E'],['i',700,'#E3263F'],['R',708,'#E8B214'],['D',726,'#27B58E'],['B',743,'#4C3FD0']].forEach(c=>gfx.push(txt(c[0],c[1],703,'left',BOLD,28,c[2],'bold')));
// result box
gfx.push({type:'rect',shape:{x:533.3,y:755.7,width:243.4,height:126},style:{fill:'#DAE3F3',stroke:'#6F93D8',lineWidth:1.5}});
const pairY=[777.3,805.7,834.3,862.7];
resultPairs.forEach((s,i)=>gfx.push(txt(s,655,pairY[i],'center',BOLD,20.6,'#111','bold')));

const chart=echarts.init(document.getElementById('c'),null,{renderer:'canvas'});
chart.setOption({animation:false,backgroundColor:'#fff',tooltip:{show:false},title:titles,legend:legends,grid:grids,xAxis:xAxes,yAxis:yAxes,visualMap:vms,series:series,graphic:{elements:gfx}});
</script></body></html>
